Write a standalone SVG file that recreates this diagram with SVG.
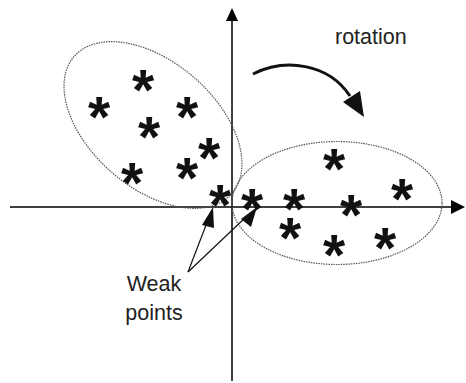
<svg xmlns="http://www.w3.org/2000/svg" width="466" height="383" viewBox="0 0 466 383">
<defs>
<style>
.ax{stroke:#000;stroke-width:1.5;fill:none}
.el{stroke:#555;stroke-width:1.2;stroke-dasharray:1.5 1;fill:none}
.s{font-family:"Liberation Sans",Arial,sans-serif;font-weight:bold;font-size:57px;text-anchor:middle;fill:#111}
.lb{font-family:"Liberation Sans",Arial,sans-serif;font-size:21.5px;fill:#222}
.ln{stroke:#111;stroke-width:1.2;fill:none}
</style>
</defs>
<g id="axes">
<line class="ax" x1="10" y1="207" x2="454" y2="207"/>
<polygon points="465,207 451,200 451,214" fill="#000"/>
<line class="ax" x1="232" y1="18" x2="232" y2="381"/>
<polygon points="232,8 226,21 238,21" fill="#000"/>
</g>
<g id="cluster-left">
<ellipse class="el" cx="153" cy="125" rx="104.5" ry="62.8" transform="rotate(41 153 125)"/>
</g>
<g id="cluster-right">
<ellipse class="el" cx="337" cy="203" rx="105" ry="61.5"/>
</g>
<g id="points">
<text class="s" x="143" y="110">*</text>
<text class="s" x="99" y="137">*</text>
<text class="s" x="187" y="137">*</text>
<text class="s" x="149" y="157">*</text>
<text class="s" x="209" y="178">*</text>
<text class="s" x="187" y="198">*</text>
<text class="s" x="132" y="203">*</text>
<text class="s" x="220" y="225">*</text>
<text class="s" x="252" y="229">*</text>
<text class="s" x="294" y="229">*</text>
<text class="s" x="334" y="189">*</text>
<text class="s" x="402" y="219">*</text>
<text class="s" x="351" y="235">*</text>
<text class="s" x="290" y="258">*</text>
<text class="s" x="334" y="275">*</text>
<text class="s" x="385" y="268">*</text>
</g>
<g id="rotation">
<path d="M253,74 C285,58 328,63 350,96" stroke="#111" stroke-width="3" fill="none"/>
<polygon points="364,117 343,102 360,91" fill="#111"/>
<text class="lb" x="335" y="44">rotation</text>
</g>
<g id="weak-points">
<text class="lb" x="154" y="291" text-anchor="middle">Weak</text>
<text class="lb" x="154" y="320" text-anchor="middle">points</text>
</g>
<g id="connectors">
<line class="ln" x1="188" y1="272" x2="208" y2="220"/>
<polygon points="213,207 202,225 214,228" fill="#111"/>
<line class="ln" x1="188" y1="272" x2="247" y2="216"/>
<polygon points="257,207 241,219 251,227" fill="#111"/>
</g>
</svg>
